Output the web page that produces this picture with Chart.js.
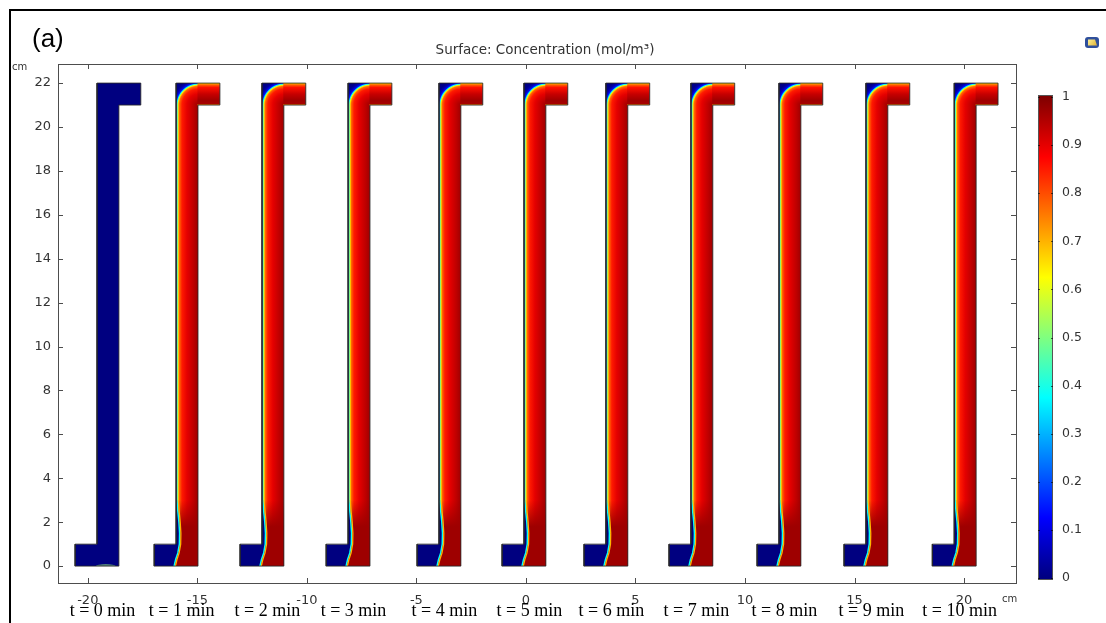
<!DOCTYPE html>
<html>
<head>
<meta charset="utf-8">
<script src="https://cdn.jsdelivr.net/npm/chart.js@4.4.1/dist/chart.umd.min.js"></script>
<style>
  html, body { margin: 0; padding: 0; background: #fff; }
  canvas { display: block; }
</style>
</head>
<body>
<canvas id="c" width="1106" height="623" style="width:1106px;height:623px"></canvas>
<script>
// ---- data -------------------------------------------------------------
// Caption under each channel (time after feed start)
const timeLabels = ['t = 0 min', 't = 1 min', 't = 2 min', 't = 3 min', 't = 4 min', 't = 5 min',
                    't = 6 min', 't = 7 min', 't = 8 min', 't = 9 min', 't = 10 min'];
// Left edge (cm) of the bottom foot of each channel
const channelX = [-20.58, -16.97, -13.05, -9.12, -4.97, -1.09, 2.65, 6.53, 10.55, 14.52, 18.55];
// 0 = channel still holds resident solution, 1 = feed has swept through
const swept = [0, 1, 1, 1, 1, 1, 1, 1, 1, 1, 1];
// Concentration across the riser vs distance (cm) from its right wall;
// values beyond 1 cm describe the dead corner at the top bend
const wallDist = [0, 0.2, 0.5, 0.73, 0.85, 0.91, 0.955, 1.0, 1.08, 1.18, 1.42];
const wallConc = [0.97, 0.94, 0.9, 0.85, 0.77, 0.64, 0.38, 0.14, 0.05, 0.01, 0.0];
// Concentration across the top outlet arm vs height (cm) above its lower wall
const armDist = [0, 0.06, 0.2, 0.5, 0.8, 0.92, 1.0];
const armConc = [0.72, 0.96, 0.97, 0.93, 0.86, 0.78, 0.66];
// Front between resident and feed solution near the inlet (cm from foot's left edge, height cm)
const frontY = [0, 0.3, 0.6, 1.0, 1.5, 2.0, 2.5, 3.0];
const frontX = [0.90, 0.98, 1.08, 1.15, 1.16, 1.13, 1.08, 1.04];
const feedConc = 0.97;
// Faint trace of feed at the inlet of the t = 0 channel (cm from foot's left edge)
const inletTrace = [0.95, 1.85];
// Axis ticks
const xTicks = [-20, -15, -10, -5, 0, 5, 10, 15, 20];
const yTicks = [0, 2, 4, 6, 8, 10, 12, 14, 16, 18, 20, 22];
const cbTicks = [0, 0.1, 0.2, 0.3, 0.4, 0.5, 0.6, 0.7, 0.8, 0.9, 1];
const cbLabels = ['0', '0.1', '0.2', '0.3', '0.4', '0.5', '0.6', '0.7', '0.8', '0.9', '1'];

// ---- channel geometry (cm) -------------------------------------------
const FOOT_W = 2, RISER_W = 1, ARM_L = 2, HEIGHT = 22, LIP = 1;

function outline(x0) {
  const xl = x0 + FOOT_W - RISER_W, xr = x0 + FOOT_W;
  return [
    {x: x0, y: 0}, {x: xr, y: 0}, {x: xr, y: HEIGHT - LIP}, {x: xl + ARM_L, y: HEIGHT - LIP},
    {x: xl + ARM_L, y: HEIGHT}, {x: xl, y: HEIGHT}, {x: xl, y: LIP}, {x: x0, y: LIP}, {x: x0, y: 0}
  ];
}

// ---- jet colour map ---------------------------------------------------
const clamp = (v, a, b) => Math.min(b, Math.max(a, v));
function jetRGB(v) {
  v = clamp(v, 0, 1);
  return [clamp(1.5 - Math.abs(4 * v - 3), 0, 1),
          clamp(1.5 - Math.abs(4 * v - 2), 0, 1),
          clamp(1.5 - Math.abs(4 * v - 1), 0, 1)].map(c => Math.round(c * 255));
}
function jet(v, a = 1) { const [r, g, b] = jetRGB(v); return `rgba(${r},${g},${b},${a})`; }
const JET_BREAKS = [0, 0.125, 0.375, 0.625, 0.875, 1];

// ---- surface painter: fills each channel with its concentration field --
const surfacePlugin = {
  id: 'surface',
  beforeDatasetsDraw(chart) {
    const {ctx, scales: {x, y}, chartArea: ca} = chart;
    const X = v => x.getPixelForValue(v), Y = v => y.getPixelForValue(v);
    ctx.save();
    ctx.beginPath(); ctx.rect(ca.left, ca.top, ca.right - ca.left, ca.bottom - ca.top); ctx.clip();
    channelX.forEach((x0, i) => {
      const pts = outline(x0);
      ctx.save();
      ctx.beginPath();
      pts.forEach((p, k) => k ? ctx.lineTo(X(p.x), Y(p.y)) : ctx.moveTo(X(p.x), Y(p.y)));
      ctx.closePath();
      ctx.clip();
      const xl = x0 + FOOT_W - RISER_W, xr = x0 + FOOT_W;
      const L = X(x0) - 1, R = X(xl + ARM_L) + 1, T = Y(HEIGHT) - 1, B = Y(0) + 1;
      if (!swept[i]) {
        ctx.fillStyle = jet(0);
        ctx.fillRect(L, T, R - L, B - T);
        // trace of feed along the inlet
        const a = X(x0 + inletTrace[0]), b = X(x0 + inletTrace[1]);
        ctx.fillStyle = 'rgba(110,170,120,0.75)';
        ctx.beginPath();
        ctx.ellipse((a + b) / 2, Y(0), (b - a) / 2, 2, 0, 0, Math.PI * 2);
        ctx.fill();
      } else {
        const unit = X(xr) - X(xl);
        // riser: profile across the width
        let g = ctx.createLinearGradient(X(xr), 0, X(xl), 0);
        wallDist.forEach((d, k) => { if (d <= 1) g.addColorStop(d, jet(wallConc[k])); });
        ctx.fillStyle = g;
        ctx.fillRect(X(xl) - 1, T, unit + 2, B - T);
        // bend: arcs round the inner corner
        const cx = X(xr), cy = Y(HEIGHT - LIP), dmax = wallDist[wallDist.length - 1];
        g = ctx.createRadialGradient(cx, cy, 0, cx, cy, unit * dmax);
        wallDist.forEach((d, k) => g.addColorStop(d / dmax, jet(wallConc[k])));
        ctx.fillStyle = g;
        ctx.fillRect(X(xl) - 1, T, unit + 1, cy - T);
        // outlet arm: profile across its height
        g = ctx.createLinearGradient(0, Y(HEIGHT - LIP), 0, Y(HEIGHT));
        armDist.forEach((d, k) => g.addColorStop(d / LIP, jet(armConc[k])));
        ctx.fillStyle = g;
        ctx.fillRect(cx - 0.5, T, R - cx + 0.5, cy - T + 0.5);
        // inlet region: resident solution left of the front, feed right of it
        const fp = frontY.map((yy, k) => ({x: X(x0 + frontX[k]), y: Y(yy)}));
        const topY = frontY[frontY.length - 1];
        ctx.beginPath();
        ctx.moveTo(L, B);
        fp.forEach(p => ctx.lineTo(p.x, p.y));
        ctx.lineTo(X(xl) - 1, Y(topY));
        ctx.lineTo(X(xl) - 1, Y(LIP));
        ctx.lineTo(L, Y(LIP));
        ctx.closePath();
        ctx.fillStyle = jet(0);
        ctx.fill();
        ctx.beginPath();
        fp.forEach((p, k) => k ? ctx.lineTo(p.x, p.y) : ctx.moveTo(p.x, p.y));
        ctx.lineTo(X(xr) + 1, Y(topY));
        ctx.lineTo(X(xr) + 1, B);
        ctx.lineTo(fp[0].x, B);
        ctx.closePath();
        g = ctx.createLinearGradient(0, Y(0), 0, Y(topY));
        g.addColorStop(0, jet(feedConc, 1));
        g.addColorStop(0.6, jet(feedConc, 1));
        g.addColorStop(1, jet(feedConc, 0));
        ctx.fillStyle = g;
        ctx.fill();
        // thin mixing layer along the front
        const strokeFront = (dx, col, w) => {
          ctx.beginPath();
          fp.forEach((p, k) => k ? ctx.lineTo(p.x + dx, p.y) : ctx.moveTo(p.x + dx, p.y + 1));
          ctx.strokeStyle = col; ctx.lineWidth = w; ctx.stroke();
        };
        strokeFront(0, jet(0.38), 1.5);
        strokeFront(1.3, jet(0.7), 1.3);
      }
      ctx.restore();
    });
    ctx.restore();
  },
  afterDraw(chart) {
    const {ctx, scales: {x, y}, chartArea: ca} = chart;
    const X = v => x.getPixelForValue(v), Y = v => y.getPixelForValue(v);
    ctx.save();
    // inner tick marks on all four sides
    ctx.strokeStyle = '#4d4d4d'; ctx.lineWidth = 1;
    ctx.beginPath();
    xTicks.forEach(v => {
      const px = Math.round(X(v)) + 0.5;
      ctx.moveTo(px, ca.bottom); ctx.lineTo(px, ca.bottom - 5);
      ctx.moveTo(px, ca.top); ctx.lineTo(px, ca.top + 5);
    });
    yTicks.forEach(v => {
      const py = Math.round(Y(v)) + 0.5;
      ctx.moveTo(ca.left, py); ctx.lineTo(ca.left + 5, py);
      ctx.moveTo(ca.right, py); ctx.lineTo(ca.right - 5, py);
    });
    ctx.stroke();
    ctx.strokeRect(Math.round(ca.left) + 0.5, Math.round(ca.top) + 0.5,
                   Math.round(ca.right - ca.left), Math.round(ca.bottom - ca.top));

    // units
    ctx.fillStyle = '#333';
    ctx.font = '10px "DejaVu Sans"';
    ctx.textBaseline = 'alphabetic';
    ctx.textAlign = 'left';
    ctx.fillText('cm', 12, 70);
    ctx.fillText('cm', ca.right - 14, 602);

    // title
    ctx.font = '13.5px "DejaVu Sans"';
    ctx.textAlign = 'center';
    ctx.fillText('Surface: Concentration (mol/m\u00B3)', 545, 54);

    // panel letter
    ctx.fillStyle = '#000';
    ctx.font = '26px "Liberation Sans"';
    ctx.textAlign = 'left';
    ctx.fillText('(a)', 32, 47);

    // time captions
    ctx.font = '18px "Liberation Serif"';
    ctx.textAlign = 'center';
    channelX.forEach((x0, i) => ctx.fillText(timeLabels[i], X(x0 + 1.25), 616));

    // colour legend
    const bx = 1038, bw = 15, y1 = 97, y0 = 578;
    const g = ctx.createLinearGradient(0, y0, 0, y1);
    JET_BREAKS.forEach(v => g.addColorStop(v, jet(v)));
    ctx.fillStyle = g;
    ctx.fillRect(bx, y1 - 2, bw, y0 - y1 + 4);
    ctx.strokeStyle = '#555';
    ctx.strokeRect(bx + 0.5, y1 - 1.5, bw - 1, y0 - y1 + 3);
    ctx.strokeStyle = 'rgba(0,0,0,0.6)';
    ctx.beginPath();
    cbTicks.forEach(v => {
      const py = Math.round(y0 + (y1 - y0) * v) + 0.5;
      ctx.moveTo(bx, py); ctx.lineTo(bx + 2, py);
      ctx.moveTo(bx + bw, py); ctx.lineTo(bx + bw - 2, py);
    });
    ctx.stroke();
    ctx.fillStyle = '#333';
    ctx.font = '12.5px "DejaVu Sans"';
    ctx.textAlign = 'left';
    ctx.textBaseline = 'middle';
    cbTicks.forEach((v, k) => ctx.fillText(cbLabels[k], 1062, y0 + (y1 - y0) * v));

    // small toolbar icon
    ctx.fillStyle = '#2f4f9c';
    ctx.beginPath(); ctx.roundRect(1085, 37, 14, 11, 3); ctx.fill();
    const ig = ctx.createLinearGradient(1087, 39, 1097, 46);
    ig.addColorStop(0, '#fff6a0'); ig.addColorStop(1, '#e0b030');
    ctx.fillStyle = ig;
    ctx.beginPath(); ctx.moveTo(1088, 39.5); ctx.lineTo(1095, 39.5); ctx.lineTo(1097, 45.5); ctx.lineTo(1088, 45.5); ctx.closePath(); ctx.fill();

    // figure frame
    ctx.strokeStyle = '#000'; ctx.lineWidth = 2;
    ctx.beginPath(); ctx.moveTo(10, 623); ctx.lineTo(10, 10); ctx.lineTo(1106, 10); ctx.stroke();
    ctx.restore();
  }
};

Chart.defaults.font.family = '"DejaVu Sans"';

new Chart(document.getElementById('c'), {
  type: 'scatter',
  data: {
    datasets: channelX.map((x0, i) => ({
      label: timeLabels[i],
      data: outline(x0),
      showLine: true,
      fill: false,
      borderColor: 'rgba(40,40,40,0.85)',
      borderWidth: 1,
      pointRadius: 0,
      tension: 0
    }))
  },
  options: {
    responsive: false,
    animation: false,
    devicePixelRatio: 1,
    layout: { padding: { left: 0, right: 90, top: 64, bottom: 0 } },
    plugins: { legend: { display: false }, tooltip: { enabled: false }, title: { display: false } },
    scales: {
      x: {
        type: 'linear', min: -21.36, max: 22.37,
        afterBuildTicks: s => { s.ticks = xTicks.map(v => ({value: v})); },
        afterFit: s => { s.height = 40; },
        grid: { display: false, drawTicks: false },
        border: { display: false },
        ticks: { color: '#333', font: { size: 13 }, padding: 10, maxRotation: 0, autoSkip: false }
      },
      y: {
        type: 'linear', min: -0.77, max: 22.87,
        afterBuildTicks: s => { s.ticks = yTicks.map(v => ({value: v})); },
        afterFit: s => { s.width = 58; },
        grid: { display: false, drawTicks: false },
        border: { display: false },
        ticks: { color: '#333', font: { size: 13 }, padding: 7, autoSkip: false }
      }
    }
  },
  plugins: [surfacePlugin]
});
</script>
</body>
</html>
